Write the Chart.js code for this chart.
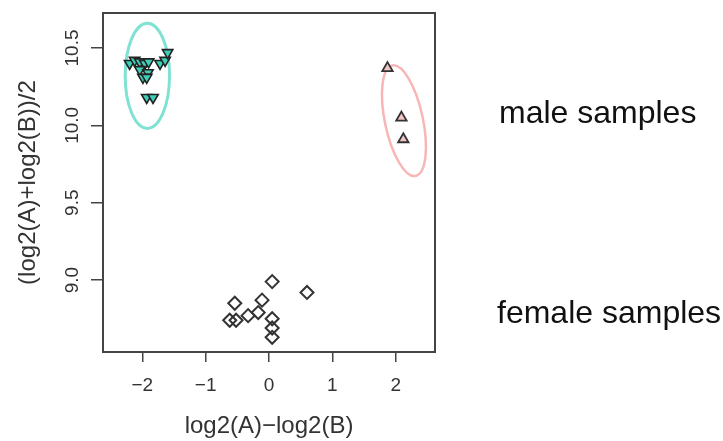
<!DOCTYPE html>
<html>
<head>
<meta charset="utf-8">
<script src="https://cdn.jsdelivr.net/npm/chart.js@4"></script>
<style>
  body { margin: 0; background: #fff; }
  #wrap { position: relative; width: 723px; height: 441px; }
  .side { position: absolute; font-family: "Liberation Sans", Arial, sans-serif; font-size: 32px; color: #111; white-space: nowrap; }
</style>
</head>
<body>
<div id="wrap">
  <canvas id="chart" width="723" height="441"></canvas>
  <div class="side" style="left:499px; top:94px;">male samples</div>
  <div class="side" style="left:497px; top:294px;">female samples</div>
</div>
<script>
// axis ticks
const xTicks = [-2, -1, 0, 1, 2];
const yTicks = [9.0, 9.5, 10.0, 10.5];

// group 1 (down triangles, teal)
const downX = [-2.20, -2.12, -2.04, -1.96, -1.90, -2.04, -1.91, -1.99, -1.93, -1.72, -1.64, -1.60, -1.93, -1.83];
const downY = [10.40, 10.42, 10.41, 10.40, 10.41, 10.36, 10.34, 10.31, 10.31, 10.40, 10.42, 10.47, 10.18, 10.18];

// group 2 (up triangles, pink)
const upX = [1.87, 2.09, 2.12];
const upY = [10.37, 10.05, 9.91];

// group 3 (diamonds)
const diamondX = [0.05, 0.60, -0.54, -0.11, -0.17, -0.33, -0.52, -0.62, 0.05, 0.05, 0.05];
const diamondY = [8.99, 8.92, 8.85, 8.87, 8.79, 8.77, 8.74, 8.74, 8.75, 8.69, 8.63];

// ellipses around the male groups (data units)
const ellCX = [-1.92, 2.13];
const ellCY = [10.32, 10.03];
const ellRX = [0.35, 0.30];
const ellRY = [0.34, 0.365];
const ellRot = [0, -12];
const ellColor = ['#7fe2d3', '#f8b6b6'];
const ellWidth = [3, 2.5];

const toPts = (xs, ys) => xs.map((x, i) => ({ x: x, y: ys[i] }));

const fontFam = '"Liberation Sans", Arial, sans-serif';

const boxAndEllipses = {
  id: 'boxAndEllipses',
  beforeDatasetsDraw(chart) {
    const ctx = chart.ctx;
    const xs = chart.scales.x, ys = chart.scales.y;
    ellCX.forEach((cx, i) => {
      const px = xs.getPixelForValue(cx);
      const py = ys.getPixelForValue(ellCY[i]);
      const rx = Math.abs(xs.getPixelForValue(cx + ellRX[i]) - px);
      const ry = Math.abs(ys.getPixelForValue(ellCY[i] + ellRY[i]) - py);
      ctx.save();
      ctx.strokeStyle = ellColor[i];
      ctx.lineWidth = ellWidth[i];
      ctx.beginPath();
      ctx.ellipse(px, py, rx, ry, ellRot[i] * Math.PI / 180, 0, Math.PI * 2);
      ctx.stroke();
      ctx.restore();
    });
  },
  afterDraw(chart) {
    const a = chart.chartArea, ctx = chart.ctx;
    ctx.save();
    ctx.strokeStyle = '#444';
    ctx.lineWidth = 2;
    ctx.strokeRect(a.left, a.top, a.right - a.left, a.bottom - a.top);
    ctx.restore();
  }
};

new Chart(document.getElementById('chart'), {
  type: 'scatter',
  data: {
    datasets: [
      {
        data: toPts(downX, downY),
        pointStyle: 'triangle', rotation: 180, pointRadius: 6,
        backgroundColor: '#3fcfb9', borderColor: '#222', borderWidth: 1.6
      },
      {
        data: toPts(upX, upY),
        pointStyle: 'triangle', pointRadius: 6,
        backgroundColor: '#f2c4c4', borderColor: '#333', borderWidth: 1.8
      },
      {
        data: toPts(diamondX, diamondY),
        pointStyle: 'rectRot', pointRadius: 6.5,
        backgroundColor: 'rgba(0,0,0,0)', borderColor: '#333', borderWidth: 2
      }
    ]
  },
  options: {
    responsive: false,
    animation: false,
    clip: false,
    layout: { padding: { top: 13, right: 288, left: 0, bottom: 0 } },
    plugins: { legend: { display: false }, tooltip: { enabled: false } },
    scales: {
      x: {
        type: 'linear', min: -2.62, max: 2.62,
        afterBuildTicks: s => { s.ticks = xTicks.map(v => ({ value: v })); },
        afterFit: s => { s.height = 89; },
        grid: { drawOnChartArea: false, tickLength: 10, color: '#444', lineWidth: 1.5 },
        border: { display: false },
        ticks: {
          color: '#333', padding: 12,
          font: { family: fontFam, size: 19 },
          callback: v => v < 0 ? '\u2212' + Math.abs(v) : String(v)
        },
        title: {
          display: true, text: 'log2(A)\u2212log2(B)', color: '#333',
          font: { family: fontFam, size: 24 }, padding: { top: 0, bottom: 0 }
        }
      },
      y: {
        type: 'linear', min: 8.535, max: 10.726,
        afterBuildTicks: s => { s.ticks = yTicks.map(v => ({ value: v })); },
        afterFit: s => { s.width = 103; },
        grid: { drawOnChartArea: false, tickLength: 12, color: '#444', lineWidth: 1.5 },
        border: { display: false },
        ticks: {
          color: '#333', padding: 0, minRotation: 90, maxRotation: 90, crossAlign: 'center',
          font: { family: fontFam, size: 19 },
          callback: v => v.toFixed(1)
        },
        title: {
          display: true, text: '(log2(A)+log2(B))/2', color: '#333',
          font: { family: fontFam, size: 24 }, padding: { top: 14, bottom: 0 }
        }
      }
    }
  },
  plugins: [boxAndEllipses]
});
</script>
</body>
</html>
